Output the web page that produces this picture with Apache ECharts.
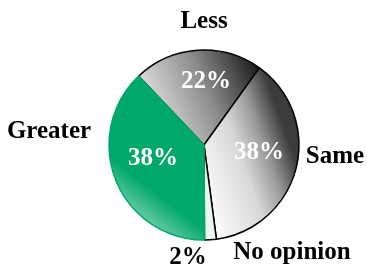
<!DOCTYPE html>
<html>
<head>
<meta charset="utf-8">
<script src="https://cdn.jsdelivr.net/npm/echarts@6/dist/echarts.min.js"></script>
<style>
  html, body { margin: 0; padding: 0; background: #fff; }
  #chart { width: 367px; height: 267px; }
</style>
</head>
<body>
<div id="chart"></div>
<script>
  // answers, clockwise from the Greater/Less edge
  const categories = ['Less', 'Same', 'No opinion', 'Greater'];
  const values = [22, 38, 2, 38];

  const serif = 'Liberation Serif';
  const G = echarts.graphic.LinearGradient;

  const fills = [
    new G(0, 0.7, 1, 0.15, [{offset: 0, color: '#f2f2f2'}, {offset: 0.55, color: '#8c8c8c'}, {offset: 1, color: '#151515'}]),
    new G(0, 0.8, 1, 0.6, [{offset: 0, color: '#ffffff'}, {offset: 0.5, color: '#d8d8d8'}, {offset: 0.75, color: '#9a9a9a'}, {offset: 1, color: '#3c3c3c'}]),
    '#eaf6ef',
    new G(0, 1, 0.85, 0.35, [{offset: 0, color: '#eef7f2'}, {offset: 0.5, color: '#00a86b'}, {offset: 1, color: '#00a86b'}])
  ];
  const borders = ['#000', '#000', '#000', '#00a86b'];

  // where the texts sit (percent inside / name outside), by category
  const pctAt = [[206, 82], [259, 153], [188, 258], [153, 159]];
  const nameAt = [[204, 22], [335, 157], [292, 253], [49, 132]];

  let myChart = echarts.init(document.getElementById('chart'));

  const common = {
    type: 'pie',
    center: [204, 145],
    radius: 95,
    startAngle: 133.5,
    clockwise: true,
    animation: false,
    silent: true,
    avoidLabelOverlap: false
  };
  const place = at => params => ({
    x: at[params.dataIndex][0],
    y: at[params.dataIndex][1],
    align: 'center',
    verticalAlign: 'middle',
    hideOverlap: false
  });

  let option = {
    backgroundColor: '#fff',
    series: [
      Object.assign({}, common, {
        data: categories.map((c, i) => ({
          name: c,
          value: values[i],
          itemStyle: {color: fills[i], borderColor: borders[i], borderWidth: 1.5},
          label: i === 2 ? {color: '#000'} : {}
        })),
        label: {
          position: 'inside',
          formatter: '{d}%',
          color: '#fff',
          fontFamily: serif,
          fontWeight: 'bold',
          fontSize: 25
        },
        labelLine: {show: false},
        labelLayout: place(pctAt)
      }),
      Object.assign({}, common, {
        data: categories.map((c, i) => ({
          name: c,
          value: values[i],
          itemStyle: {color: 'transparent', borderWidth: 0}
        })),
        label: {
          position: 'inside',
          formatter: '{b}',
          color: '#000',
          fontFamily: serif,
          fontWeight: 'bold',
          fontSize: 25,
          overflow: 'none'
        },
        labelLine: {show: false},
        labelLayout: place(nameAt)
      })
    ]
  };
  myChart.setOption(option);
</script>
</body>
</html>
